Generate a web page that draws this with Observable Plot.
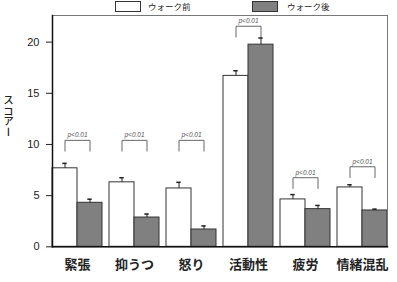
<!DOCTYPE html>
<html><head><meta charset="utf-8">
<script src="https://cdn.jsdelivr.net/npm/d3@7"></script>
<script src="https://cdn.jsdelivr.net/npm/@observablehq/plot@0.6"></script>
<style>
body{margin:0;background:#fff;font-family:"Noto Sans CJK JP",sans-serif;}
#legend{position:relative;height:14px;width:397px;}
.sw{position:absolute;top:1px;width:26px;border:1px solid #333;box-sizing:border-box;height:11px;}
.lt{position:absolute;top:0;font-size:8.5px;line-height:13px;color:#222;font-family:"Noto Sans CJK JP",sans-serif;}
#wrap{position:relative;width:397px;}
#ylab{position:absolute;left:3px;top:81px;writing-mode:vertical-rl;font-size:10.5px;line-height:11px;color:#222;font-weight:500;font-family:"Noto Sans CJK JP",sans-serif;}
</style></head><body>
<div id="legend"></div>
<div id="wrap"><div id="ylab"></div></div>
<script>
const categories = ["緊張", "抑うつ", "怒り", "活動性", "疲労", "情緒混乱"];
const conditions = ["ウォーク前", "ウォーク後"];
const before    = [7.67, 6.3, 5.7, 16.7, 4.63, 5.8];
const beforeErr = [0.48, 0.45, 0.6, 0.5, 0.47, 0.26];
const after     = [4.3, 2.86, 1.69, 19.75, 3.68, 3.55];
const afterErr  = [0.35, 0.34, 0.35, 0.65, 0.36, 0.13];
const bracketTop = [10.4, 10.4, 10.4, 21.55, 6.75, 7.82];
const bracketLeg = 1.05;
const pLabel = "p<0.01";
const yTicks = [0, 5, 10, 15, 20];
const yLabel = "スコアー";
const colors = ["#ffffff", "#808080"];

const rows = categories.flatMap((c, i) => [
  {category: c, condition: conditions[0], value: before[i], err: beforeErr[i]},
  {category: c, condition: conditions[1], value: after[i], err: afterErr[i]}
]);
const sig = categories.map((c, i) => ({category: c, y: bracketTop[i], label: pLabel}));
const bracketPts = sig.flatMap(s => [
  {category: s.category, condition: conditions[0], y: s.y - bracketLeg},
  {category: s.category, condition: conditions[0], y: s.y},
  {category: s.category, condition: conditions[1], y: s.y},
  {category: s.category, condition: conditions[1], y: s.y - bracketLeg}
]);

// legend
const leg = document.getElementById("legend");
const lx = [[115, 148], [252, 287]];
conditions.forEach((c, i) => {
  const b = document.createElement("div"); b.className = "sw";
  b.style.left = lx[i][0] + "px"; b.style.background = colors[i];
  leg.appendChild(b);
  const t = document.createElement("div"); t.className = "lt";
  t.style.left = lx[i][1] + "px"; t.textContent = c;
  leg.appendChild(t);
});
document.getElementById("ylab").textContent = yLabel;

const chart = Plot.plot({
  width: 397, height: 268,
  marginLeft: 47, marginRight: 4, marginTop: 1, marginBottom: 35.7,
  style: {fontFamily: "Liberation Sans, Arial, sans-serif", fontSize: "10.5px", color: "#222", background: "#fff"},
  fx: {domain: categories, paddingInner: 0.115, paddingOuter: 0.061, label: null, axis: "bottom", tickSize: 0, tickPadding: 13},
  x: {domain: conditions, padding: 0, axis: null},
  y: {domain: [0, 22.6], axis: null},
  color: {domain: conditions, range: colors},
  marks: [
    Plot.barY(rows, {fx: "category", x: "condition", y: "value", fill: "condition", stroke: "#333", strokeWidth: 1}),
    Plot.ruleX(rows, {fx: "category", x: "condition", y1: "value", y2: d => d.value + d.err, stroke: "#222", strokeWidth: 1}),
    Plot.tickY(rows, {fx: "category", x: "condition", y: d => d.value + d.err, insetLeft: 10.3, insetRight: 10.3, stroke: "#222", strokeWidth: 1.5}),
    Plot.line(bracketPts, {fx: "category", x: "condition", y: "y", z: "category", stroke: "#666", strokeWidth: 1}),
    Plot.text(sig, {fx: "category", y: "y", text: "label", dy: -5, fontSize: 6.5, fontStyle: "italic", fill: "#555"}),
    Plot.frame({facet: "super", stroke: "#777", strokeWidth: 1}),
    Plot.frame({facet: "super", anchor: "bottom", stroke: "#111", strokeWidth: 1.5}),
    Plot.frame({facet: "super", anchor: "left", stroke: "#111", strokeWidth: 1.5}),
    Plot.axisY(yTicks, {tickSize: 6, tickPadding: 7, stroke: "#222", fill: "#222", fontSize: 11, label: null})
  ]
});
d3.select(chart).selectAll('g[aria-label="fx-axis tick label"] text')
  .style("font-family", "Noto Sans CJK JP, sans-serif").style("font-size", "13px").style("font-weight", "700");
document.getElementById("wrap").appendChild(chart);
</script>
</body></html>
